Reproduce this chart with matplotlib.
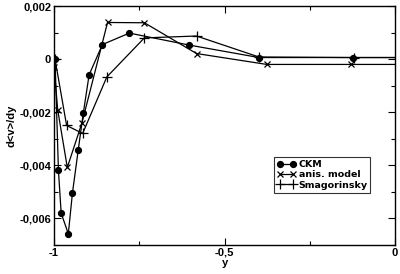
import matplotlib
matplotlib.use("Agg")
import matplotlib.pyplot as plt
from matplotlib.ticker import MultipleLocator

plt.rcParams['font.family'] = ['Liberation Sans', 'DejaVu Sans']
plt.rcParams['font.weight'] = 'bold'

# data
ckm_y = [-0.997, -0.987, -0.979, -0.958, -0.946, -0.929, -0.914, -0.897, -0.858, -0.779, -0.604, -0.399, -0.122, 0.122]
ckm_v = [0.0, -0.00419, -0.0058, -0.00658, -0.00505, -0.00343, -0.00203, -0.00059, 0.00055, 0.00098, 0.00053, 0.00006, 0.00006, 0.00006]

anis_y = [-1.0, -0.989, -0.961, -0.918, -0.843, -0.735, -0.582, -0.376, -0.129, 0.129]
anis_v = [-0.00029, -0.00192, -0.00408, -0.0024, 0.00138, 0.00137, 0.00021, -0.0002, -0.0002, -0.0002]

smag_y = [-0.997, -0.963, -0.916, -0.845, -0.735, -0.582, -0.399, -0.12, 0.12]
smag_v = [0.0, -0.0025, -0.0028, -0.00067, 0.0008, 0.00087, 0.00008, 0.00006, 0.00006]

xticks = [-1, -0.5, 0]
xticklabels = ['-1', '-0,5', '0']
yticks = [-0.006, -0.004, -0.002, 0, 0.002]
yticklabels = ['-0,006', '-0,004', '-0,002', '0', '0,002']

fig = plt.figure(figsize=(4.0, 2.74), dpi=100)
ax = fig.add_axes([0.135, 0.106, 0.8525, 0.872])

lw = 0.9
ax.plot(smag_y, smag_v, color='black', lw=lw, marker='+', ms=7, mew=0.9, label='Smagorinsky', zorder=2)
ax.plot(anis_y, anis_v, color='black', lw=lw, marker='x', ms=5, mew=0.9, label='anis. model', zorder=3)
ax.plot(ckm_y, ckm_v, color='black', lw=lw, marker='o', ms=4.2, label='CKM', zorder=4)

ax.set_xlim(-1, 0)
ax.set_ylim(-0.007, 0.002)
ax.set_xticks(xticks)
ax.set_xticklabels(xticklabels)
ax.set_yticks(yticks)
ax.set_yticklabels(yticklabels)
ax.xaxis.set_minor_locator(MultipleLocator(0.25))
ax.yaxis.set_minor_locator(MultipleLocator(0.001))
ax.tick_params(which='both', direction='in', top=True, right=True, labelsize=8, pad=2)
ax.tick_params(which='major', length=5, width=0.8)
ax.tick_params(which='minor', length=3, width=0.8)
for s in ax.spines.values():
    s.set_linewidth(1.0)

ax.set_xlabel('y', fontsize=8, fontweight='bold', labelpad=0)
ax.set_ylabel('d<v>/dy', fontsize=8, fontweight='bold', labelpad=2)

handles, labels = ax.get_legend_handles_labels()
order = [2, 1, 0]
leg = ax.legend([handles[i] for i in order], [labels[i] for i in order],
                loc='upper left', bbox_to_anchor=(0.645, 0.368), numpoints=2,
                prop={'family': 'DejaVu Sans', 'weight': 'bold', 'size': 6.8},
                frameon=True, fancybox=False, edgecolor='black',
                handlelength=2.0, handletextpad=0.3, borderpad=0.3, labelspacing=0.15,
                borderaxespad=0)
leg.get_frame().set_linewidth(0.8)

fig.savefig('out.png', dpi=100)
